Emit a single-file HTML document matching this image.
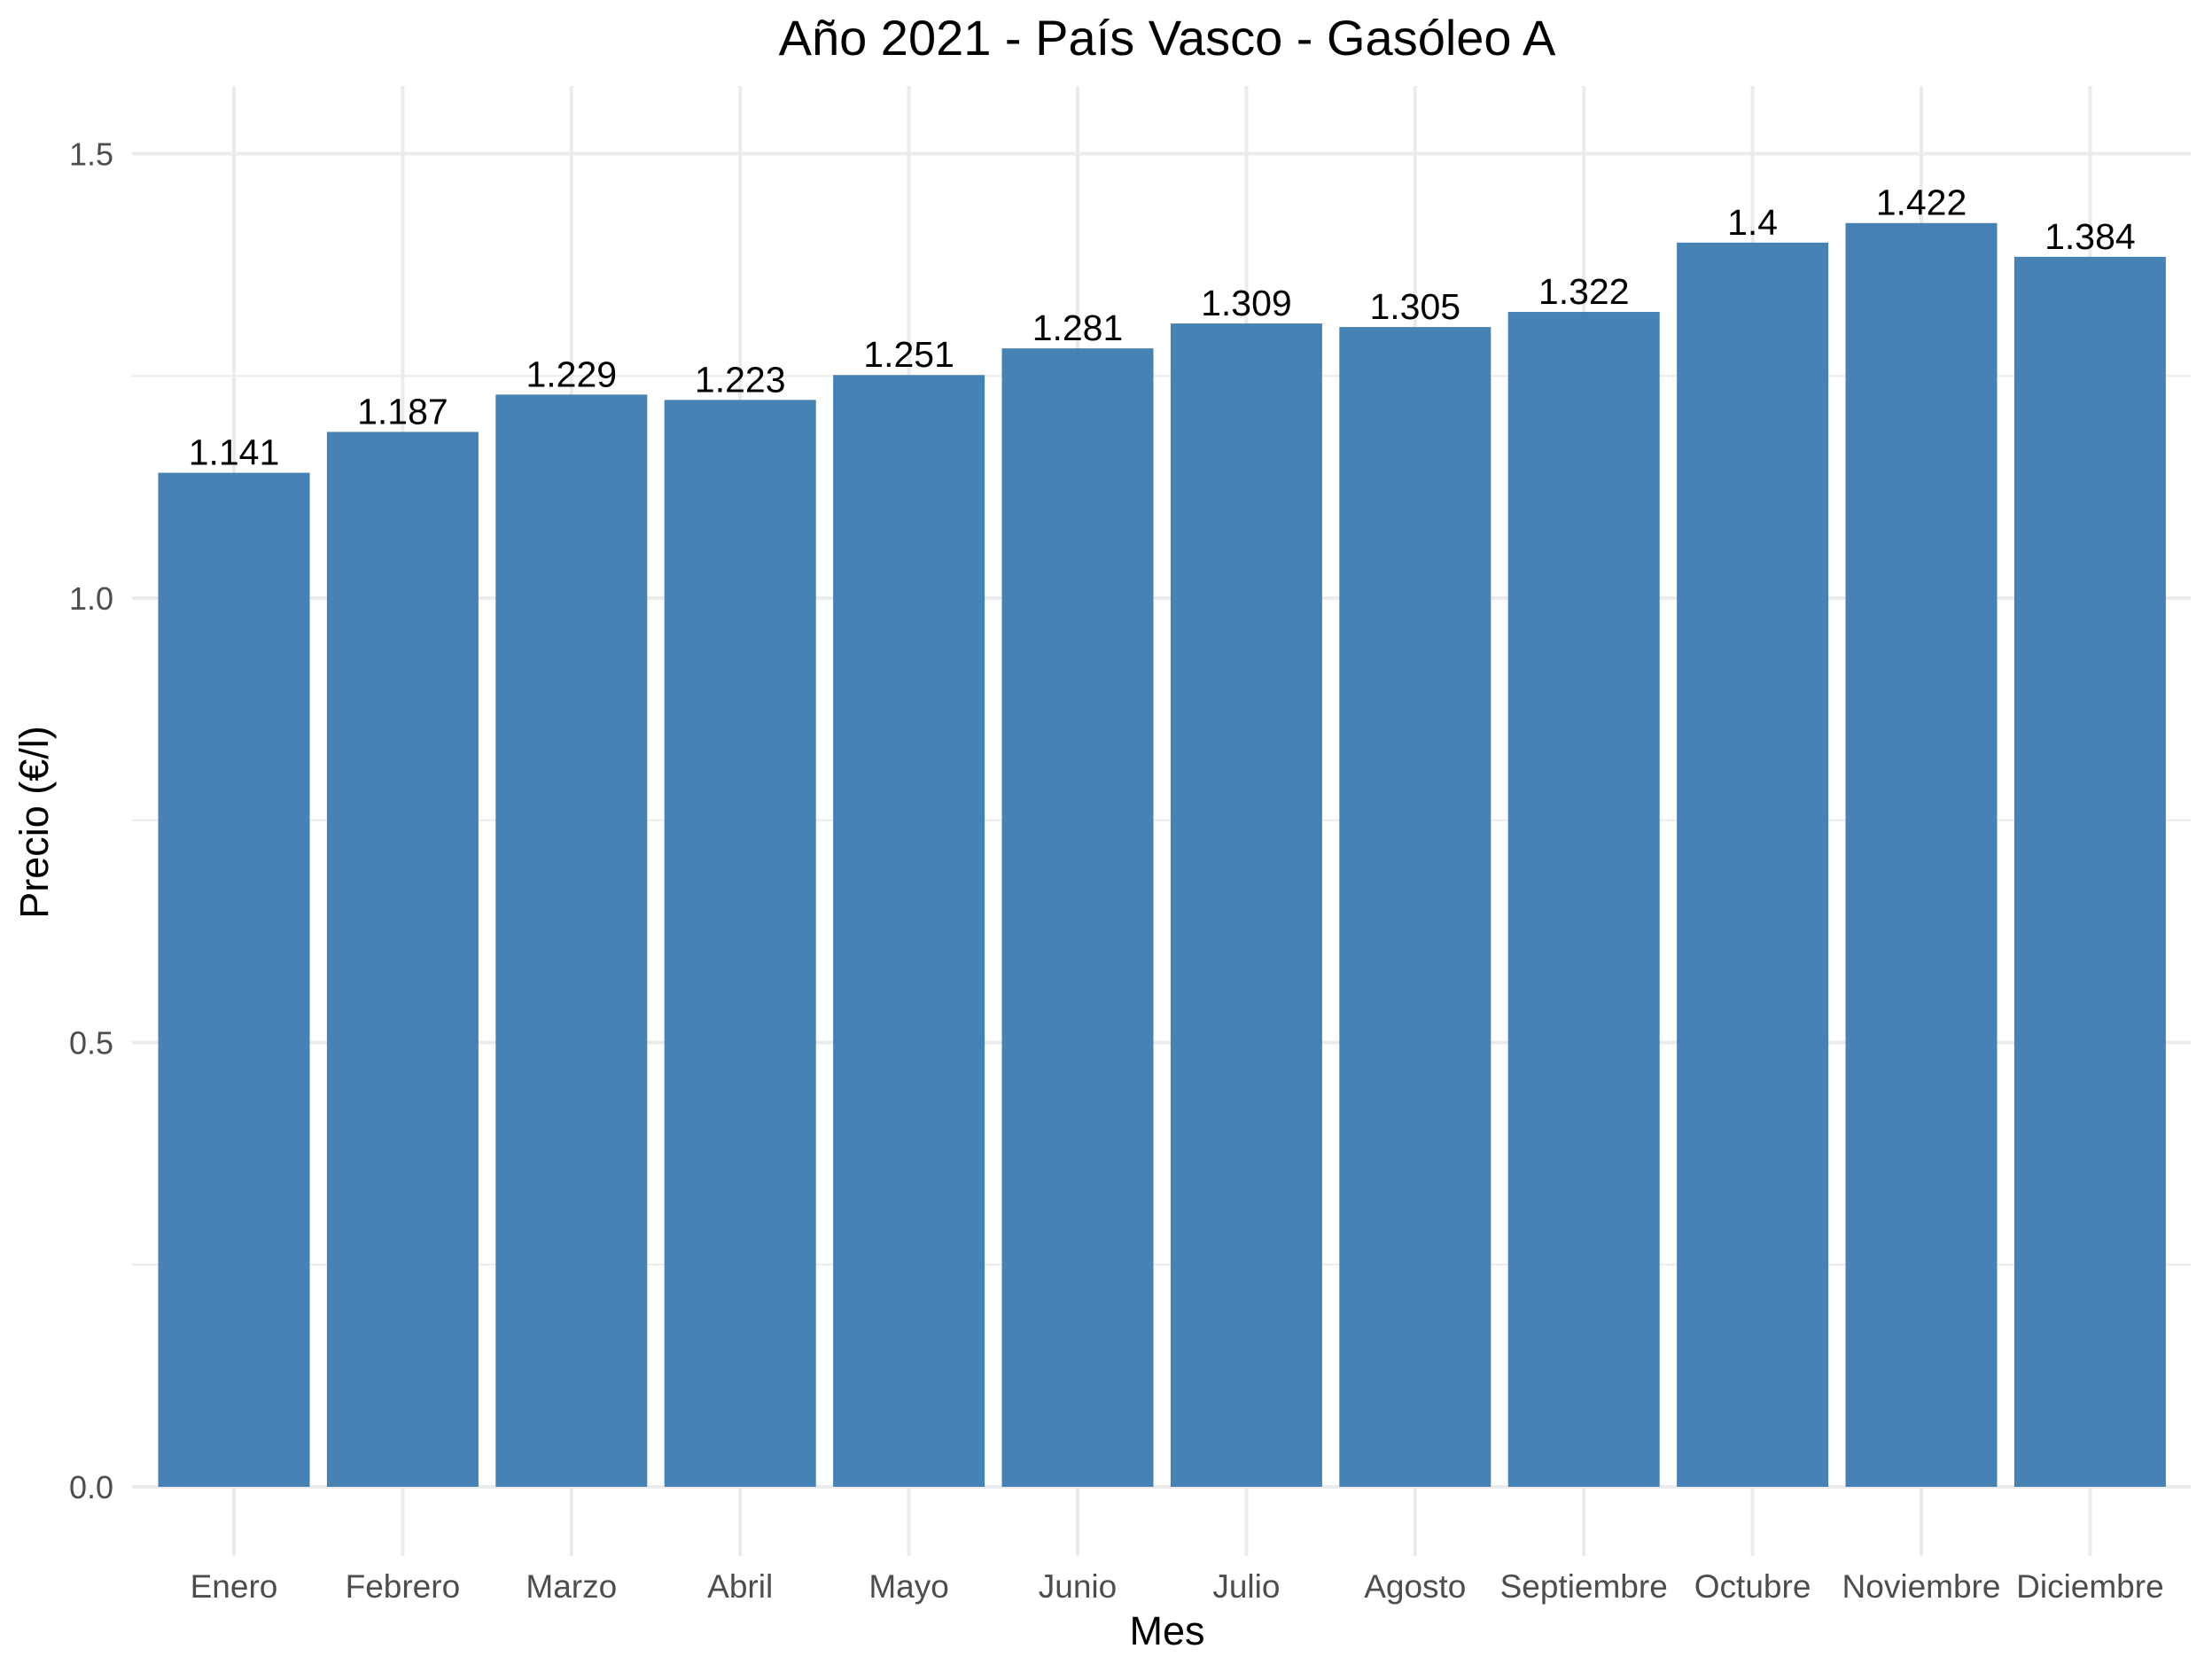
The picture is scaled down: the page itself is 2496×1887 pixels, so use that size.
<!DOCTYPE html>
<html><head><meta charset="utf-8"><style>
html,body{margin:0;padding:0;background:#fff;}
svg{display:block;font-family:"Liberation Sans",Arial,sans-serif;}
</style></head><body>
<svg id="chart" width="2496" height="1887" viewBox="0 0 2496 1887">
<text x="1317" y="62" text-anchor="middle" font-size="56" fill="#000">Año 2021 - País Vasco - Gasóleo A</text>
<text x="1317" y="1856" text-anchor="middle" font-size="45" fill="#000">Mes</text>
<text transform="translate(54,928) rotate(-90)" text-anchor="middle" font-size="45" fill="#000">Precio (€/l)</text>
<g id="grid"></g><g id="bars"></g><g id="labels"></g>
</svg>
<script>
const categories = ["Enero","Febrero","Marzo","Abril","Mayo","Junio","Julio","Agosto","Septiembre","Octubre","Noviembre","Diciembre"];
const values = [1.141,1.187,1.229,1.223,1.251,1.281,1.309,1.305,1.322,1.4,1.422,1.384];
const valueLabels = ["1.141","1.187","1.229","1.223","1.251","1.281","1.309","1.305","1.322","1.4","1.422","1.384"];
const yTicks = [0,0.5,1.0,1.5];
const yTickLabels = ["0.0","0.5","1.0","1.5"];
const yMinor = [0.25,0.75,1.25];

const NS="http://www.w3.org/2000/svg";
const plotL=149, plotR=2472, plotT=97, baseY=1678, pxPerUnit=1003;
const x0=264, step=190.4, barW=171;
function yScale(v){return baseY - v*pxPerUnit;}
function xScale(i){return x0 + i*step;}
function mk(tag,attrs,parent){const e=document.createElementNS(NS,tag);for(const k in attrs)e.setAttribute(k,attrs[k]);parent.appendChild(e);return e;}
const grid=document.getElementById('grid'), bars=document.getElementById('bars'), labels=document.getElementById('labels');

yMinor.forEach(v=>{
  const l=mk('line',{x1:plotL,x2:plotR,y1:yScale(v),y2:yScale(v),stroke:'#ebebeb','stroke-width':2},grid);
  
  
});
yTicks.forEach((v,i)=>{
  const l=mk('line',{x1:plotL,x2:plotR,y1:yScale(v),y2:yScale(v),stroke:'#ebebeb','stroke-width':4},grid);
  
  
  const t=mk('text',{x:128,y:yScale(v)+13,'text-anchor':'end','font-size':36,fill:'#4d4d4d'},grid);
  t.textContent=yTickLabels[i];
  
  
});
categories.forEach((c,i)=>{
  const l=mk('line',{x1:xScale(i),x2:xScale(i),y1:plotT,y2:1756,stroke:'#ebebeb','stroke-width':4},grid);
  
  
  const t=mk('text',{x:xScale(i),y:1803,'text-anchor':'middle','font-size':37,fill:'#4d4d4d'},grid);
  t.textContent=c;
  
  
});
values.forEach((v,i)=>{
  const r=mk('rect',{x:xScale(i)-barW/2,y:yScale(v),width:barW,height:baseY-yScale(v),fill:'#4682b4'},bars);
  
  
  const t=mk('text',{x:xScale(i),y:yScale(v)-9,'text-anchor':'middle','font-size':41,fill:'#000'},labels);
  t.textContent=valueLabels[i];
  
  
});
</script>
</body></html>
